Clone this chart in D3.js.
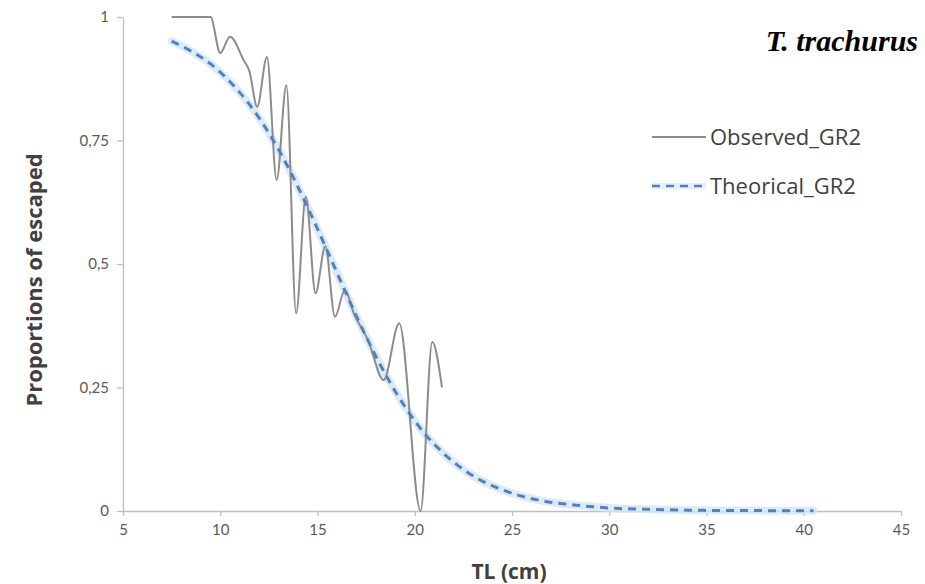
<!DOCTYPE html>
<html>
<head>
<meta charset="utf-8">
<script src="https://cdn.jsdelivr.net/npm/d3@7"></script>
<style>
  body { margin: 0; background: #fff; }
  svg { display: block; font-family: Lato, "Open Sans", sans-serif; }
</style>
</head>
<body>
<svg class="chart"></svg>
<script>
const width = 925,
  height = 584;

// observed proportions (TL cm, proportion)
const obsTL = [7.5, 8.5, 9.5, 10, 10.5, 11.2, 11.5, 11.9, 12.4, 12.9, 13.4, 13.9, 14.4, 14.9, 15.4, 15.9, 16.4, 16.9, 17.6, 18.4, 19.2, 20.3, 20.9, 21.4];
const obsP = [1, 1, 1, 0.927, 0.96, 0.913, 0.89, 0.818, 0.919, 0.67, 0.862, 0.4, 0.636, 0.441, 0.536, 0.393, 0.447, 0.397, 0.346, 0.265, 0.38, 0, 0.342, 0.25];

// theoretical curve
const theoTL = [7.5, 8.5, 9.5, 10.5, 11.5, 12.5, 13.5, 14.5, 15.5, 16.5, 17.5, 18.5, 19.5, 20.5, 21.5, 22.5, 23.5, 24.5, 25.5, 26.5, 27.5, 28.5, 29.5, 30.5, 31.5, 32.5, 33.5, 34.5, 35.5, 36.5, 37.5, 38.5, 39.5, 40.5];
const theoP = [0.951, 0.931, 0.905, 0.869, 0.823, 0.765, 0.695, 0.614, 0.527, 0.438, 0.353, 0.276, 0.211, 0.157, 0.116, 0.084, 0.06, 0.043, 0.03, 0.021, 0.015, 0.011, 0.0075, 0.005, 0.004, 0.003, 0.002, 0.0015, 0.001, 0.001, 0.001, 0.0005, 0.0005, 0.0005];

const xTicks = [5, 10, 15, 20, 25, 30, 35, 40, 45];
const yTicks = [0, 0.25, 0.5, 0.75, 1];
const yTickLabels = ['0', '0,25', '0,5', '0,75', '1'];
const seriesNames = ['Observed_GR2', 'Theorical_GR2'];

let x = d3.scaleLinear()
  .domain([5, 45])
  .range([123, 901]);
let y = d3.scaleLinear()
  .domain([0, 1])
  .range([511, 17]);

let chart = d3.select(".chart")
  .attr("width", width)
  .attr("height", height);

// axes
let xAxis = d3.axisBottom(x)
  .tickValues(xTicks)
  .tickSize(5)
  .tickSizeOuter(0)
  .tickPadding(8);
let yAxis = d3.axisLeft(y)
  .tickValues(yTicks)
  .tickSize(6)
  .tickSizeOuter(0)
  .tickPadding(8)
  .tickFormat((d, i) => yTickLabels[i]);

let gx = chart.append("g")
  .attr("transform", `translate(0, ${y(0)})`)
  .call(xAxis);
let gy = chart.append("g")
  .attr("transform", `translate(${x(5)}, 0)`)
  .call(yAxis);

[gx, gy].forEach(g => {
  g.select(".domain").attr("stroke", "#bfbfbf").attr("stroke-width", 1.3);
  g.selectAll(".tick line").attr("stroke", "#bfbfbf").attr("stroke-width", 1.3);
  g.selectAll(".tick text")
    .attr("fill", "#595959")
    .style("font-size", "15px")
    .style("font-family", "Lato, 'Open Sans', sans-serif");
});

let theoData = theoTL.map((d, i) => [d, theoP[i]]);
let obsData = obsTL.map((d, i) => [d, obsP[i]]);

let smooth = d3.line()
  .x(d => x(d[0]))
  .y(d => y(d[1]))
  .curve(d3.curveMonotoneX);

// theoretical glow
chart.append("path")
  .datum(theoData)
  .attr("d", smooth)
  .attr("fill", "none")
  .attr("stroke", "#d3e6f8")
  .attr("stroke-width", 8)
  .attr("stroke-linecap", "round")
  .attr("opacity", 0.8);

chart.append("path")
  .datum(obsData)
  .attr("d", smooth)
  .attr("fill", "none")
  .attr("stroke", "#8c8c8c")
  .attr("stroke-width", 2);

chart.append("path")
  .datum(theoData)
  .attr("d", smooth)
  .attr("fill", "none")
  .attr("stroke", "#5581b8")
  .attr("stroke-width", 3)
  .attr("stroke-dasharray", "8,6");

// axis titles
chart.append("text")
  .attr("x", 509)
  .attr("y", 579)
  .attr("text-anchor", "middle")
  .attr("fill", "#404040")
  .style("font-family", "'Open Sans', sans-serif")
  .style("font-size", "21px")
  .style("font-weight", "bold")
  .text("TL (cm)");

chart.append("text")
  .attr("transform", "translate(42, 280) rotate(-90)")
  .attr("text-anchor", "middle")
  .attr("fill", "#404040")
  .style("font-family", "'Open Sans', sans-serif")
  .style("font-size", "22px")
  .style("font-weight", "bold")
  .text("Proportions of escaped");

// species title
chart.append("text")
  .attr("x", 918)
  .attr("y", 51)
  .attr("text-anchor", "end")
  .attr("fill", "#000")
  .style("font-family", "'Liberation Serif', 'DejaVu Serif', serif")
  .style("font-size", "30px")
  .style("font-weight", "bold")
  .style("font-style", "italic")
  .text("T. trachurus");

// legend
let legend = chart.append("g");
legend.append("line")
  .attr("x1", 652).attr("x2", 706)
  .attr("y1", 137).attr("y2", 137)
  .attr("stroke", "#8c8c8c")
  .attr("stroke-width", 2);
legend.append("line")
  .attr("x1", 652).attr("x2", 706)
  .attr("y1", 186).attr("y2", 186)
  .attr("stroke", "#d3e6f8")
  .attr("stroke-width", 6)
  .attr("opacity", 0.6);
legend.append("line")
  .attr("x1", 652).attr("x2", 706)
  .attr("y1", 186).attr("y2", 186)
  .attr("stroke", "#5581b8")
  .attr("stroke-width", 2.5)
  .attr("stroke-dasharray", "8,6");
legend.selectAll("text.lbl")
  .data(seriesNames)
  .enter().append("text")
  .attr("class", "lbl")
  .attr("x", 710)
  .attr("y", (d, i) => 137 + i * 49)
  .attr("dy", "0.35em")
  .attr("fill", "#404040")
  .style("font-family", "'Open Sans', sans-serif")
  .style("font-size", "22px")
  .text(d => d);
</script>
</body>
</html>
